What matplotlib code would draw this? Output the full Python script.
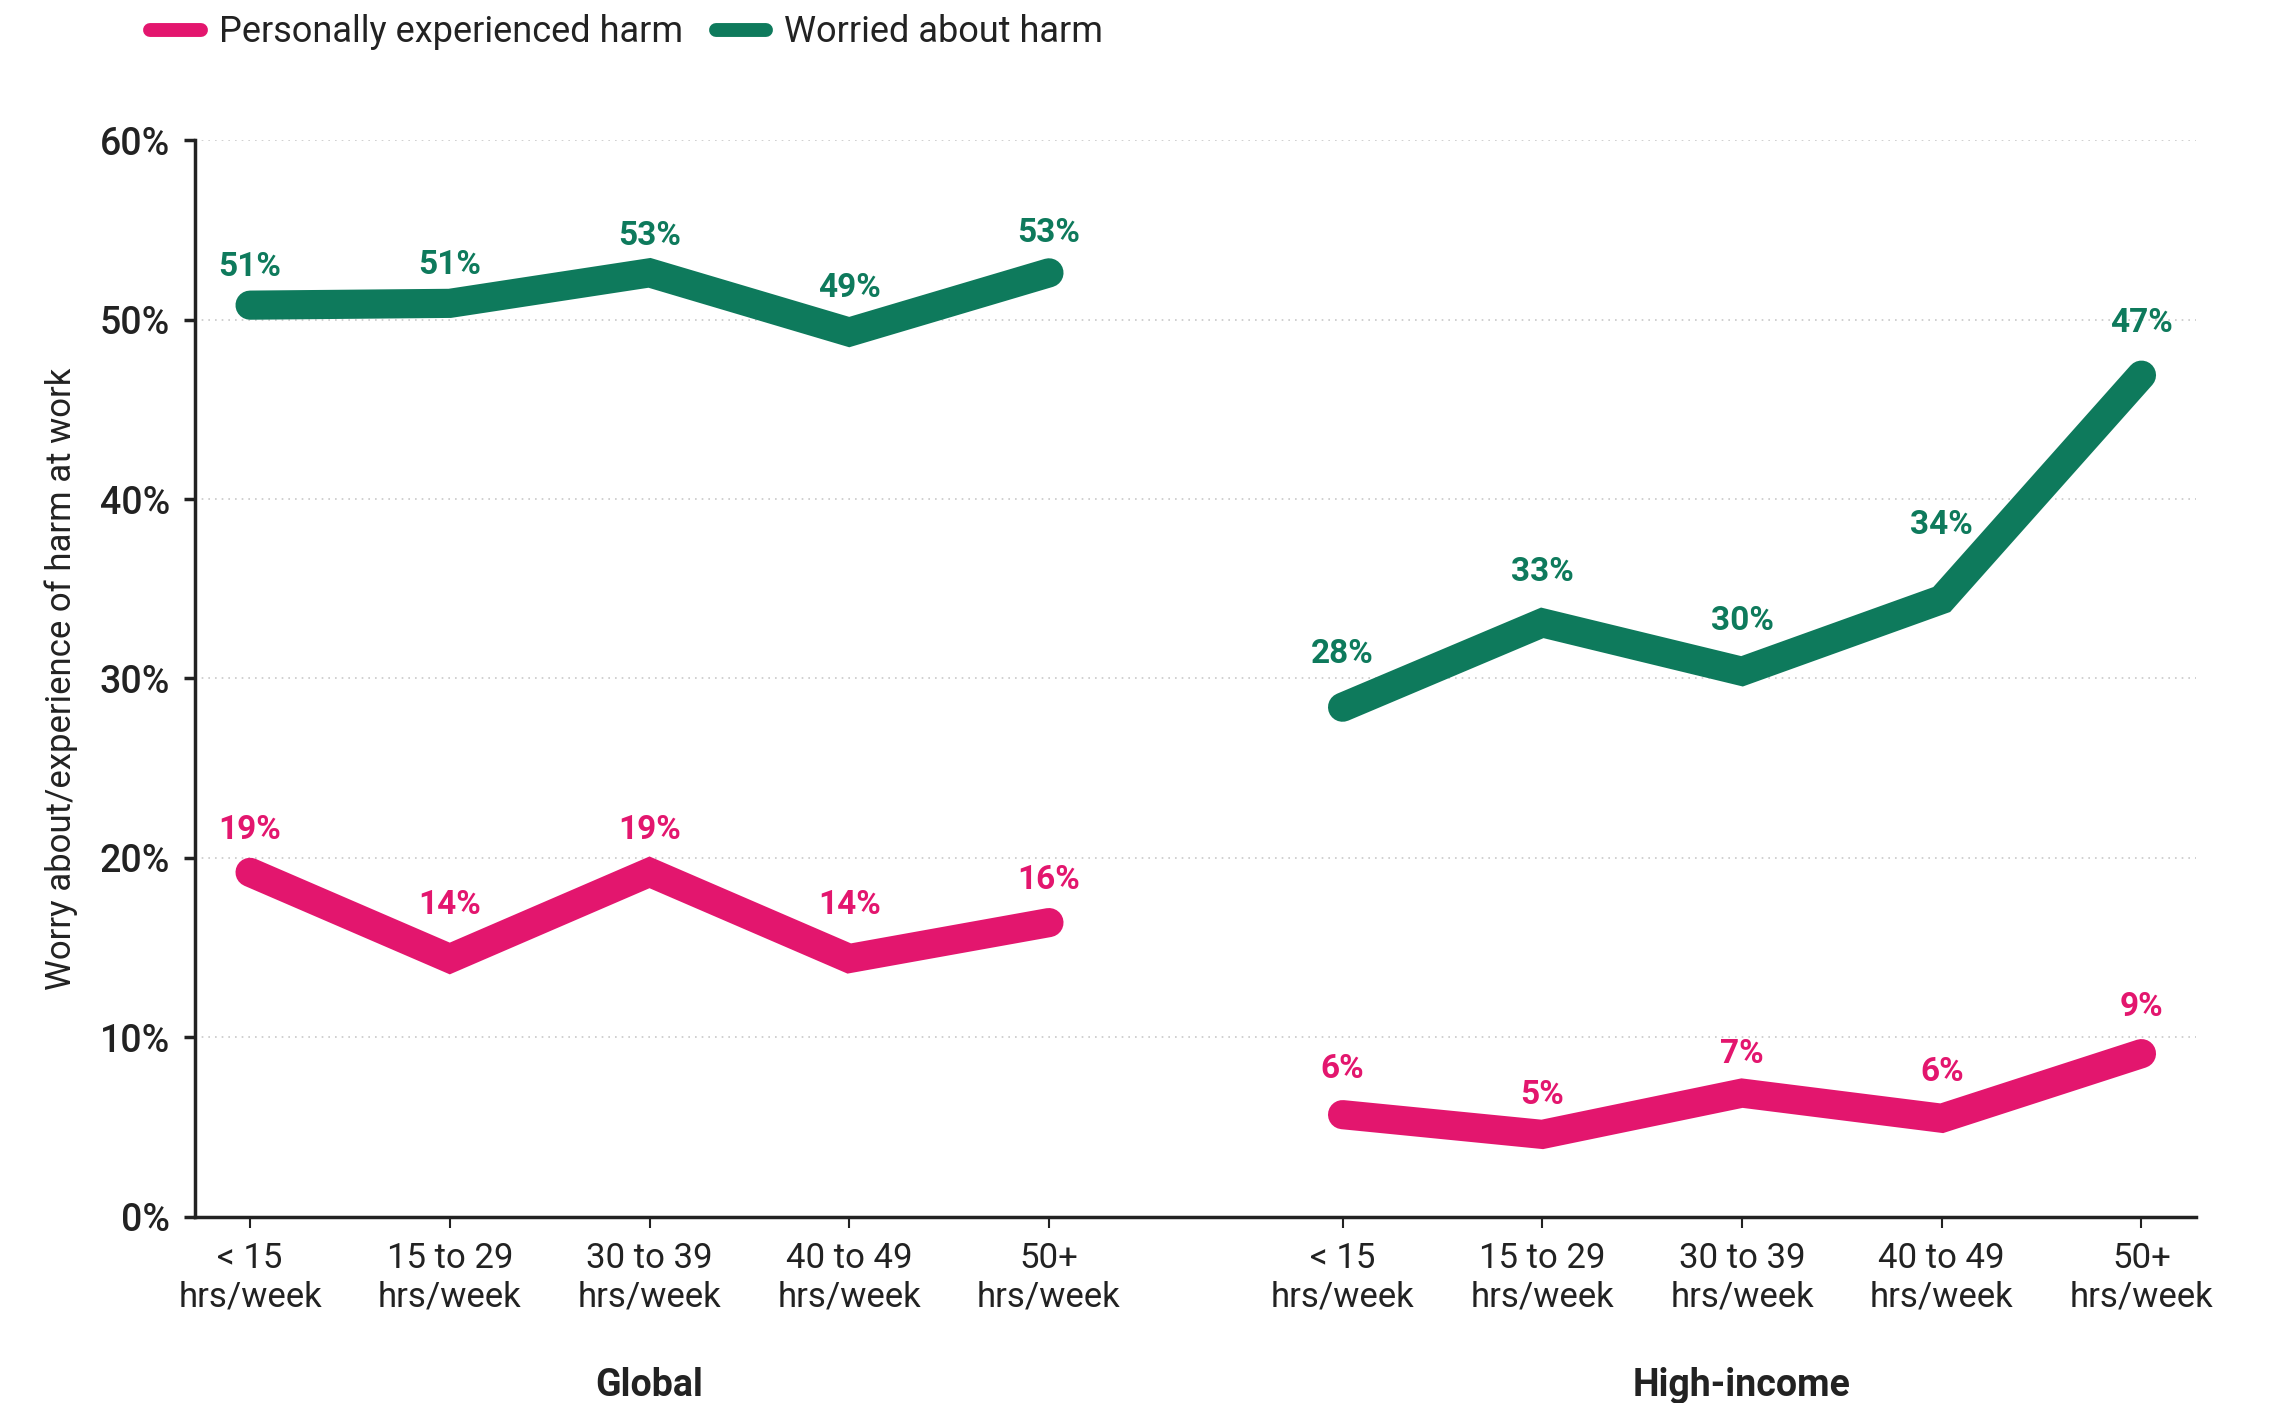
import matplotlib.pyplot as plt
from matplotlib.lines import Line2D

plt.rcParams['font.family'] = ['Roboto', 'DejaVu Sans']

hours = ["< 15\nhrs/week", "15 to 29\nhrs/week", "30 to 39\nhrs/week",
         "40 to 49\nhrs/week", "50+\nhrs/week"]
groups = ["Global", "High-income"]

global_worried = [50.8, 50.9, 52.6, 49.3, 52.6]
global_harmed = [19.2, 14.4, 19.2, 14.4, 16.4]
high_worried = [28.4, 33.1, 30.4, 34.4, 46.9]
high_harmed = [5.7, 4.6, 6.9, 5.5, 9.1]

PINK = "#E3166E"
GREEN = "#0E7A5C"
INK = "#222222"
GAP = 5.47  # offset of the second group on the x axis

# how far (points) each value label sits above its point
lift_global_worried = [16, 16, 15, 20, 17]
lift_global_harmed = [19, 27, 19, 27, 19]
lift_high_worried = [27, 25, 25, 42, 26]
lift_high_harmed = [21, 17, 17, 22, 22]

x_global = list(range(len(hours)))
x_high = [i + GAP for i in x_global]

fig = plt.figure(figsize=(22.69, 14.03), dpi=100)
ax = fig.add_axes([0.086, 0.1326, 0.882, 0.7676])

lw = 21
series = [
    (x_global, global_worried, lift_global_worried, GREEN),
    (x_global, global_harmed, lift_global_harmed, PINK),
    (x_high, high_worried, lift_high_worried, GREEN),
    (x_high, high_harmed, lift_high_harmed, PINK),
]
for xs, vals, lifts, col in series:
    ax.plot(xs, vals, color=col, lw=lw, solid_capstyle="round",
            solid_joinstyle="miter", zorder=3)
    for x, v, dy in zip(xs, vals, lifts):
        ax.annotate(f"{v:.0f}%", (x, v), xytext=(0, dy), textcoords="offset points",
                    ha="center", va="bottom", color=col, fontsize=24,
                    fontweight="bold")

ax.set_xlim(-0.275, x_high[-1] + 0.275)
ax.set_ylim(0, 60)
ax.set_yticks(range(0, 61, 10))
ax.set_yticklabels([f"{t}%" for t in range(0, 61, 10)])
ax.set_xticks(x_global + x_high)
ax.set_xticklabels(hours + hours)

ax.grid(axis="y", color="#c8c8c8", linestyle=(0, (1, 3)), lw=1.2)
ax.set_axisbelow(True)
for side in ["top", "right"]:
    ax.spines[side].set_visible(False)
for side in ["left", "bottom"]:
    ax.spines[side].set_color(INK)
    ax.spines[side].set_linewidth(2.5)

ax.tick_params(axis="y", labelsize=27, length=8, width=2.5, color=INK,
               labelcolor=INK, pad=10)
ax.tick_params(axis="x", labelsize=25, length=8, width=1.5, color=INK,
               labelcolor=INK, pad=10)
for lab in ax.get_yticklabels():
    lab.set_fontweight("medium")

ax.set_ylabel("Worry about/experience of harm at work", fontsize=25,
              color=INK, labelpad=16)

for xs, name in [(x_global, groups[0]), (x_high, groups[1])]:
    ax.annotate(name, (xs[2], 0), xycoords=("data", "axes fraction"),
                xytext=(0, -108), textcoords="offset points", ha="center",
                va="top", fontsize=27, fontweight="bold", color=INK)

handles = [Line2D([0], [0], color=PINK, lw=10, solid_capstyle="round"),
           Line2D([0], [0], color=GREEN, lw=10, solid_capstyle="round")]
fig.legend(handles, ["Personally experienced harm", "Worried about harm"],
           loc="upper left", bbox_to_anchor=(0.052, 1.013), ncol=2, frameon=False,
           fontsize=26, handlelength=1.4, handletextpad=0.5, columnspacing=0.9,
           labelcolor=INK)

fig.savefig("out.png", dpi=100)
